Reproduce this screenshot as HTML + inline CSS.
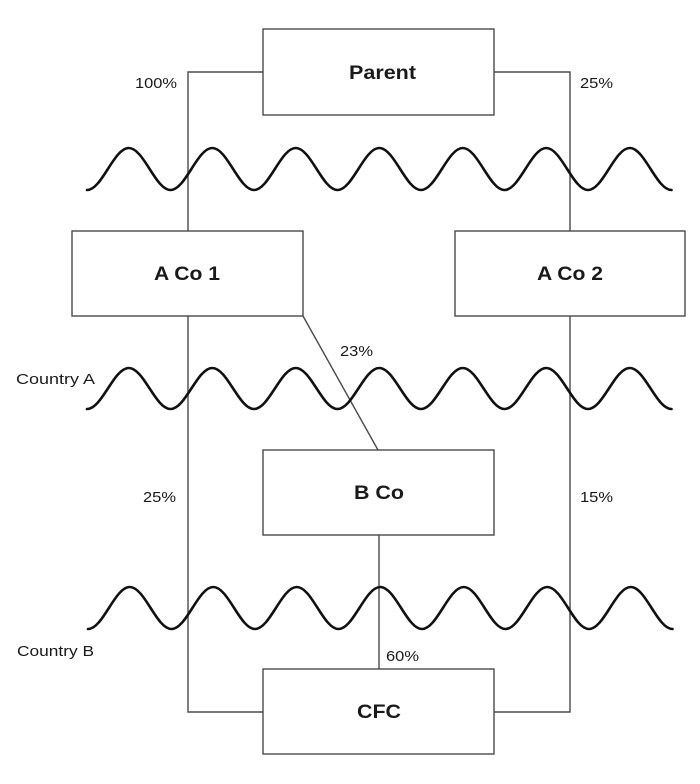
<!DOCTYPE html>
<html><head><meta charset="utf-8"><style>
html,body{margin:0;padding:0;background:#fff}
svg{display:block}
text{font-family:"Liberation Sans",sans-serif;fill:#1a1a1a}
.b{font-weight:bold;font-size:19px}
.l{font-size:15px}
</style></head><body>
<svg width="700" height="784" viewBox="0 0 700 784" xmlns="http://www.w3.org/2000/svg">
<g fill="none" stroke="#4a4a4a" stroke-width="1.4">
<polyline points="263,72 188,72 188,231"/>
<polyline points="494,72 570,72 570,231"/>
<polyline points="188,316 188,712 263,712"/>
<polyline points="570,316 570,712 494,712"/>
<line x1="303" y1="316" x2="378" y2="450"/>
<line x1="379" y1="535" x2="379" y2="669"/>
<rect x="263" y="29" width="231" height="86" fill="#fff"/>
<rect x="72" y="231" width="231" height="85" fill="#fff"/>
<rect x="455" y="231" width="230" height="85" fill="#fff"/>
<rect x="263" y="450" width="231" height="85" fill="#fff"/>
<rect x="263" y="669" width="231" height="85" fill="#fff"/>
</g>
<g fill="none" stroke="#111" stroke-width="2.6" stroke-linecap="round">
<path d="M87,190 c15,0 26.75,-42 41.75,-42 s26.75,42 41.75,42 s26.75,-42 41.75,-42 s26.75,42 41.75,42 s26.75,-42 41.75,-42 s26.75,42 41.75,42 s26.75,-42 41.75,-42 s26.75,42 41.75,42 s26.75,-42 41.75,-42 s26.75,42 41.75,42 s26.75,-42 41.75,-42 s26.75,42 41.75,42 s26.75,-42 41.75,-42 s26.75,42 41.75,42"/>
<path d="M87,409 c15,0 26.75,-41 41.75,-41 s26.75,41 41.75,41 s26.75,-41 41.75,-41 s26.75,41 41.75,41 s26.75,-41 41.75,-41 s26.75,41 41.75,41 s26.75,-41 41.75,-41 s26.75,41 41.75,41 s26.75,-41 41.75,-41 s26.75,41 41.75,41 s26.75,-41 41.75,-41 s26.75,41 41.75,41 s26.75,-41 41.75,-41 s26.75,41 41.75,41"/>
<path d="M88,629 c15,0 26.75,-42 41.75,-42 s26.75,42 41.75,42 s26.75,-42 41.75,-42 s26.75,42 41.75,42 s26.75,-42 41.75,-42 s26.75,42 41.75,42 s26.75,-42 41.75,-42 s26.75,42 41.75,42 s26.75,-42 41.75,-42 s26.75,42 41.75,42 s26.75,-42 41.75,-42 s26.75,42 41.75,42 s26.75,-42 41.75,-42 s26.75,42 41.75,42"/>
</g>
<g lengthAdjust="spacingAndGlyphs">
<text class="b" x="349" y="79" textLength="67" lengthAdjust="spacingAndGlyphs">Parent</text>
<text class="b" x="154" y="280" textLength="66" lengthAdjust="spacingAndGlyphs">A Co 1</text>
<text class="b" x="537" y="280" textLength="66" lengthAdjust="spacingAndGlyphs">A Co 2</text>
<text class="b" x="354" y="499" textLength="50" lengthAdjust="spacingAndGlyphs">B Co</text>
<text class="b" x="357" y="718" textLength="44" lengthAdjust="spacingAndGlyphs">CFC</text>
<text class="l" x="135" y="88" textLength="42" lengthAdjust="spacingAndGlyphs">100%</text>
<text class="l" x="580" y="88" textLength="33" lengthAdjust="spacingAndGlyphs">25%</text>
<text class="l" x="340" y="356" textLength="33" lengthAdjust="spacingAndGlyphs">23%</text>
<text class="l" x="143" y="502" textLength="33" lengthAdjust="spacingAndGlyphs">25%</text>
<text class="l" x="580" y="502" textLength="33" lengthAdjust="spacingAndGlyphs">15%</text>
<text class="l" x="386" y="661" textLength="33" lengthAdjust="spacingAndGlyphs">60%</text>
<text class="l" x="16" y="384" textLength="79" lengthAdjust="spacingAndGlyphs">Country A</text>
<text class="l" x="17" y="656" textLength="77" lengthAdjust="spacingAndGlyphs">Country B</text>
</g>
</svg>
</body></html>
